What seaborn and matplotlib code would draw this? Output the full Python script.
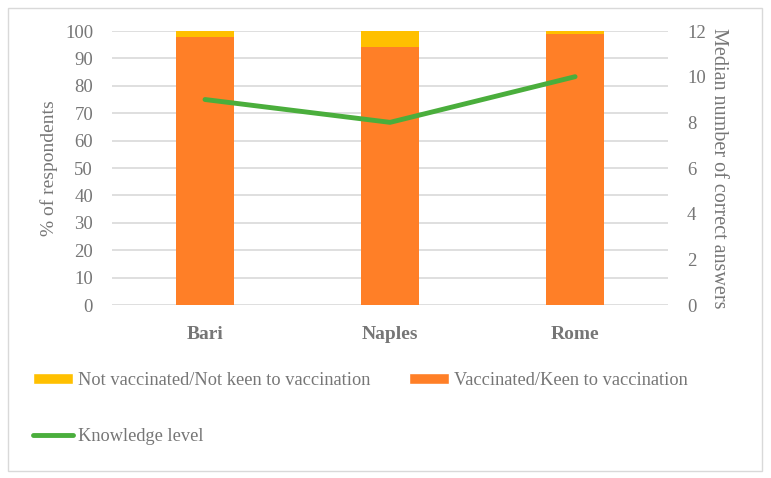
import matplotlib
matplotlib.use("Agg")
import matplotlib.pyplot as plt
from matplotlib.patches import Patch, Rectangle
from matplotlib.lines import Line2D
import seaborn as sns
import pandas as pd

cities = ["Bari", "Naples", "Rome"]
vaccinated = [98, 94, 99]
not_vaccinated = [2, 6, 1]
knowledge = [9, 8, 10]

YELLOW = "#FFC000"
ORANGE = "#FF7F27"
GREEN = "#4AAE3C"
TEXT = "#767676"

sns.set_style("white")
plt.rcParams["font.family"] = ["Liberation Serif", "DejaVu Serif"]

df = pd.DataFrame(
    {
        "city": cities,
        "total": [v + n for v, n in zip(vaccinated, not_vaccinated)],
        "vaccinated": vaccinated,
        "knowledge": knowledge,
    }
)

fig = plt.figure(figsize=(7.71, 4.78), dpi=100)
ax = fig.add_axes([0.1459, 0.3619, 0.72, 0.5732])

sns.barplot(data=df, x="city", y="total", color=YELLOW, width=0.31,
            saturation=1, linewidth=0, ax=ax, zorder=2)
sns.barplot(data=df, x="city", y="vaccinated", color=ORANGE, width=0.31,
            saturation=1, linewidth=0, ax=ax, zorder=3)

ax.set_ylim(0, 100)
ax.set_yticks(range(0, 101, 10))
ax.set_xlim(-0.5, 2.5)
ax.grid(axis="y", color="#D9D9D9", linewidth=1.2, zorder=0)
ax.set_axisbelow(True)
for s in ax.spines.values():
    s.set_visible(False)
ax.tick_params(axis="y", length=0, labelsize=13.5, labelcolor=TEXT, pad=14)
ax.tick_params(axis="x", length=0, labelsize=14, labelcolor=TEXT, pad=15)
for lbl in ax.get_xticklabels():
    lbl.set_fontweight("bold")
ax.set_xlabel("")
ax.set_ylabel("% of respondents", fontsize=14, color=TEXT, labelpad=5)

ax2 = ax.twinx()
sns.lineplot(data=df, x="city", y="knowledge", color=GREEN, linewidth=3.5,
             ax=ax2, zorder=4)
ax2.set_ylim(0, 12)
ax2.set_yticks(range(0, 13, 2))
for s in ax2.spines.values():
    s.set_visible(False)
ax2.tick_params(axis="y", length=0, labelsize=13.5, labelcolor=TEXT, pad=14)
ax2.set_ylabel("Median number of correct answers", fontsize=14.5, color=TEXT,
               rotation=270, labelpad=16)
ax2.set_xlabel("")

handles1 = [
    Patch(facecolor=YELLOW, label="Not vaccinated/Not keen to vaccination"),
    Patch(facecolor=ORANGE, label="Vaccinated/Keen to vaccination"),
]
fig.legend(handles=handles1, loc="center left", bbox_to_anchor=(0.043, 0.205),
           ncol=2, frameon=False, fontsize=13.2, handlelength=2.18,
           handleheight=0.55, handletextpad=0.27, columnspacing=2.1,
           borderpad=0, borderaxespad=0, labelcolor=TEXT)
handles2 = [Line2D([0], [0], color=GREEN, linewidth=3.5, label="Knowledge level")]
fig.legend(handles=handles2, loc="center left", bbox_to_anchor=(0.043, 0.0858),
           frameon=False, fontsize=13.2, handlelength=2.18, handletextpad=0.27,
           borderpad=0, borderaxespad=0, labelcolor=TEXT)

fig.patches.append(Rectangle((0.01, 0.015), 0.978, 0.968, transform=fig.transFigure,
                             fill=False, edgecolor="#D9D9D9", linewidth=1))

fig.savefig("out.png", dpi=100)
